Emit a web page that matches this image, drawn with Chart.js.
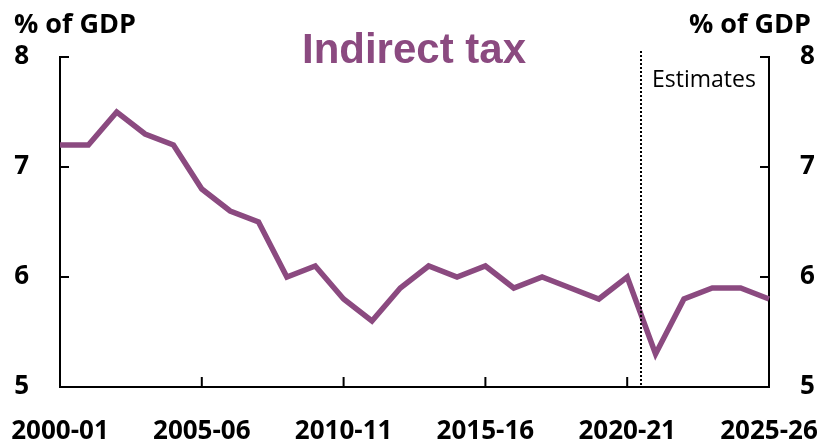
<!DOCTYPE html>
<html>

<head>
    <title>Indirect tax</title>
    <script src="https://cdn.jsdelivr.net/npm/chart.js"></script>
    <style>
        * {
            margin: 0;
            padding: 0;
            box-sizing: border-box;
        }

        body {
            background-color: white;
        }

        .chart-container {
            position: relative;
            width: 824px;
            height: 444px;
        }
    </style>
</head>

<body>
    <div class="chart-container">
        <canvas id="taxChart"></canvas>
    </div>

    <script>
        const years = [
            '2000-01', '2001-02', '2002-03', '2003-04', '2004-05', '2005-06', '2006-07', '2007-08', '2008-09',
            '2009-10', '2010-11', '2011-12', '2012-13', '2013-14', '2014-15', '2015-16', '2016-17', '2017-18',
            '2018-19', '2019-20', '2020-21', '2021-22', '2022-23', '2023-24', '2024-25', '2025-26'
        ];
        const indirectTax = [
            7.2, 7.2, 7.5, 7.3, 7.2, 6.8, 6.6, 6.5, 6.0,
            6.1, 5.8, 5.6, 5.9, 6.1, 6.0, 6.1, 5.9, 6.0,
            5.9, 5.8, 6.0, 5.3, 5.8, 5.9, 5.9, 5.8
        ];
        const yTicks = [5, 6, 7, 8];
        const xTickEvery = 5;
        const estimatesFrom = '2020-21';

        const purple = '#8b4a80';
        const labelFont = '"Open Sans", sans-serif';

        // inward tick marks, dotted estimates line and the texts
        const decorations = {
            id: 'decorations',
            afterDraw(chart) {
                const ctx = chart.ctx;
                const x = chart.scales.x;
                const y = chart.scales.y;
                const area = chart.chartArea;

                ctx.save();
                ctx.strokeStyle = 'black';
                ctx.lineWidth = 2;
                ctx.beginPath();
                yTicks.forEach(v => {
                    const py = y.getPixelForValue(v);
                    ctx.moveTo(area.left, py);
                    ctx.lineTo(area.left + 9, py);
                    ctx.moveTo(area.right, py);
                    ctx.lineTo(area.right - 9, py);
                });
                years.forEach((label, i) => {
                    if (i % xTickEvery === 0) {
                        const px = x.getPixelForValue(i);
                        ctx.moveTo(px, area.bottom);
                        ctx.lineTo(px, area.bottom - 10);
                    }
                });
                ctx.stroke();

                const i0 = years.indexOf(estimatesFrom);
                const dx = Math.round((x.getPixelForValue(i0) + x.getPixelForValue(i0 + 1)) / 2);
                ctx.setLineDash([2, 2]);
                ctx.beginPath();
                ctx.moveTo(dx, 51);
                ctx.lineTo(dx, area.bottom);
                ctx.stroke();
                ctx.setLineDash([]);

                ctx.fillStyle = 'black';
                ctx.textBaseline = 'alphabetic';
                ctx.font = 'bold 27px ' + labelFont;
                ctx.textAlign = 'left';
                ctx.fillText('% of GDP', 14, 33);
                ctx.textAlign = 'right';
                ctx.fillText('% of GDP', 811, 33);

                ctx.font = '23px ' + labelFont;
                ctx.textAlign = 'left';
                ctx.fillText('Estimates', dx + 11, 87);

                ctx.fillStyle = purple;
                ctx.font = 'bold 42px "Liberation Sans", Arial, sans-serif';
                ctx.textAlign = 'center';
                ctx.fillText('Indirect tax', 414, 63);
                ctx.restore();
            }
        };

        const ctxTax = document.getElementById('taxChart').getContext('2d');

        const yAxis = (position, width) => ({
            type: 'linear',
            position: position,
            min: 5,
            max: 8,
            afterFit: scale => {
                scale.width = width;
                scale.paddingTop = 0;
                scale.paddingBottom = 0;
            },
            ticks: {
                stepSize: 1,
                padding: 31,
                color: 'black',
                font: { family: labelFont, size: 26, weight: 'bold' }
            },
            grid: { display: true, drawOnChartArea: false, drawTicks: false },
            border: { display: true, color: 'black', width: 2 }
        });

        new Chart(ctxTax, {
            type: 'line',
            data: {
                labels: years,
                datasets: [{
                    label: 'Indirect tax',
                    data: indirectTax,
                    borderColor: purple,
                    backgroundColor: purple,
                    borderWidth: 5.5,
                    pointRadius: 0,
                    tension: 0
                }]
            },
            options: {
                responsive: true,
                maintainAspectRatio: false,
                animation: false,
                layout: { padding: { top: 57, left: 0, right: 0, bottom: 0 } },
                scales: {
                    x: {
                        type: 'category',
                        offset: false,
                        afterFit: scale => {
                            scale.height = 57;
                            scale.paddingLeft = 0;
                            scale.paddingRight = 0;
                        },
                        ticks: {
                            autoSkip: false,
                            maxRotation: 0,
                            padding: 29,
                            color: 'black',
                            font: { family: labelFont, size: 26, weight: 'bold' },
                            callback: function (value, index) {
                                return index % xTickEvery === 0 ? years[index] : '';
                            }
                        },
                        grid: { display: true, drawOnChartArea: false, drawTicks: false },
                        border: { display: true, color: 'black', width: 2 }
                    },
                    y: yAxis('left', 60),
                    y2: yAxis('right', 55)
                },
                plugins: {
                    legend: { display: false },
                    tooltip: { enabled: false }
                }
            },
            plugins: [decorations]
        });
    </script>
</body>

</html>
